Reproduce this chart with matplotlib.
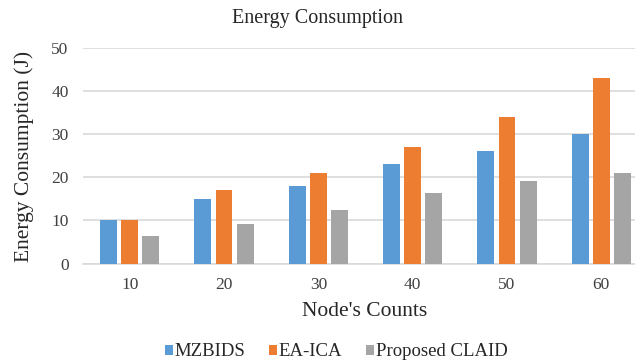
import matplotlib
matplotlib.use("Agg")
import matplotlib.pyplot as plt
import numpy as np

categories = ["10", "20", "30", "40", "50", "60"]
mzbids = [10, 15, 18, 23, 26, 30]
ea_ica = [10, 17, 21, 27, 34, 43]
claid = [6.3, 9.2, 12.3, 16.3, 19.2, 21.0]
series_names = ["MZBIDS", "EA-ICA", "Proposed CLAID"]
colors = ["#5B9BD5", "#ED7D31", "#A5A5A5"]

plt.rcParams['font.family'] = ['Liberation Serif', 'DejaVu Serif']

W, H = 635, 364
fig = plt.figure(figsize=(W/100, H/100), dpi=100)
ax = fig.add_axes([82.5/W, 1-263.5/H, 566/W, 216/H])

x = np.arange(len(categories))
w = 0.18
step = 0.223
for i, (vals, name, c) in enumerate(zip([mzbids, ea_ica, claid], series_names, colors)):
    ax.bar(x + (i-1)*step, vals, width=w, color=c, label=name, zorder=3)

ax.set_xlim(-0.5, len(categories)-0.5)
ax.set_ylim(0, 50)
ax.set_yticks(range(0, 51, 10))
ax.set_xticks(x)
ax.set_xticklabels(categories)
ax.tick_params(axis='both', length=0, labelsize=12.5, colors='#404040', pad=10)
ax.grid(axis='y', color='#D9D9D9', linewidth=1.2, zorder=0)
for s in ['top', 'right', 'left']:
    ax.spines[s].set_visible(False)
ax.spines['bottom'].set_color('#D9D9D9')
ax.spines['bottom'].set_linewidth(1.2)

fig.text(318/W, 1-19/H, "Energy Consumption", fontsize=14.5, color='#262626',
         ha='center', va='center')
fig.text(365/W, 1-312/H, "Node's Counts", fontsize=15.5, color='#262626',
         ha='center', va='center')
fig.text(24/W, 1-156/H, "Energy Consumption (J)", fontsize=15.5, color='#262626',
         ha='center', va='center', rotation=90)

handles, labels = ax.get_legend_handles_labels()
leg = fig.legend(handles, labels, loc='center', bbox_to_anchor=(336/W, 1-352/H), ncol=3,
                 frameon=False, fontsize=13.5, handlelength=0.43, handleheight=0.43,
                 handletextpad=0.1, columnspacing=1.25, borderpad=0)
for t in leg.get_texts():
    t.set_color('#262626')

fig.savefig("out.png", dpi=100)
